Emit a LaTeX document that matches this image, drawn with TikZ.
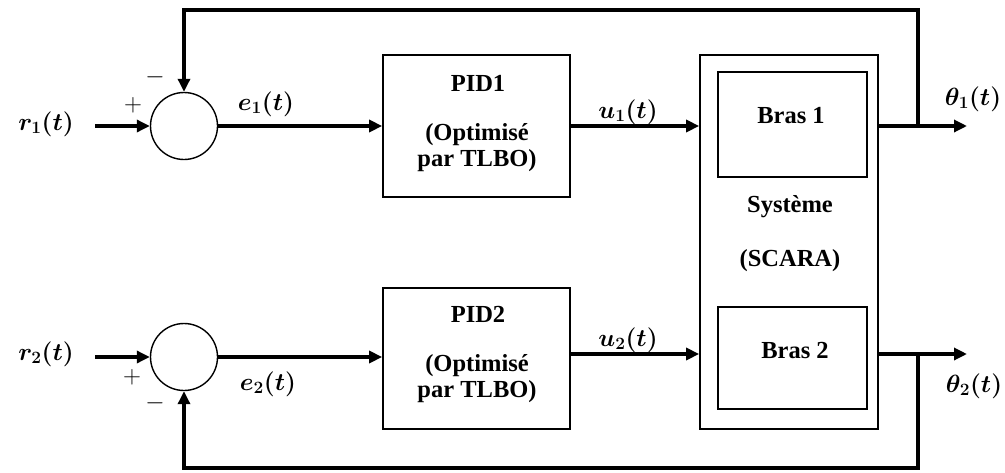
\documentclass[tikz,border=0pt]{standalone}
\usepackage{amsmath,bm}
\usepackage{fontspec}
\setmainfont{Liberation Serif}
\usetikzlibrary{arrows.meta}
\begin{document}
\begin{tikzpicture}[x=1pt,y=-1pt,
  sig/.style={line width=3.2pt,-{Triangle[length=13pt,width=12pt]}},
  blk/.style={draw,line width=1.7pt,inner sep=0pt},
  sumc/.style={draw,circle,line width=1.4pt,minimum size=67pt,inner sep=0pt},
  txt/.style={font=\fontsize{24.5}{26}\selectfont\bfseries,align=center,inner sep=0pt},
  lbl/.style={font=\fontsize{27}{30}\selectfont,inner sep=0pt},
  pm/.style={font=\fontsize{26}{30}\selectfont,inner sep=0pt}]
\useasboundingbox (0,0) rectangle (1005,472);
% blocks
\node[sumc] (s1) at (184,126) {};
\node[sumc] (s2) at (184,357) {};
\node[blk,minimum width=187pt,minimum height=142pt] (pid1) at (476.5,126) {};
\node[blk,minimum width=187pt,minimum height=141pt] (pid2) at (476.5,358.5) {};
\node[blk,minimum width=178pt,minimum height=374pt] (sys) at (789,242) {};
\node[blk,minimum width=149pt,minimum height=105pt] (b1) at (792.5,124.5) {};
\node[blk,minimum width=149pt,minimum height=102pt] (b2) at (792.5,358) {};
% block texts
\node[txt] (t1) at (478,83) {PID1};
\node[txt] (t2) at (477,148) {(Optimisé\\par TLBO)};
\node[txt] (t3) at (478,314) {PID2};
\node[txt] (t4) at (477,379) {(Optimisé\\par TLBO)};
\node[txt] (t5) at (791,116) {Bras 1};
\node[txt] (t6) at (790,207) {Système};
\node[txt] (t7) at (790,261) {(SCARA)};
\node[txt] (t8) at (795,351) {Bras 2};
% coordinates
\coordinate (in1) at (95,126);
\coordinate (in2) at (95,357);
\coordinate (br1) at (918,126);
\coordinate (br2) at (918,354);
\coordinate (out1) at (967,126);
\coordinate (out2) at (967,354);
\coordinate (top) at (918,10);
\coordinate (bot) at (918,468);
% signals
\draw[sig] (in1) -- (s1.west);
\draw[sig] (in2) -- (s2.west);
\draw[sig] (s1.east) -- (pid1.west);
\draw[sig] (s2.east) -- (pid2.west |- s2.east);
\draw[sig] (pid1.east) -- (sys.west |- pid1.east);
\draw[sig] (pid2.east |- br2) -- (sys.west |- br2);
\draw[sig] (sys.east |- out1) -- (out1);
\draw[sig] (sys.east |- out2) -- (out2);
\draw[sig] (br1) -- (top) -| (s1.north);
\draw[sig] (br2) -- (bot) -| (s2.south);
% labels
\node[lbl] (lr1) at (46,124) {$\bm{r_1(t)}$};
\node[lbl] (lr2) at (46,354) {$\bm{r_2(t)}$};
\node[lbl] (le1) at (266,104) {$\bm{e_1(t)}$};
\node[lbl] (le2) at (268,384) {$\bm{e_2(t)}$};
\node[lbl] (lu1) at (628,112) {$\bm{u_1(t)}$};
\node[lbl] (lu2) at (628,340) {$\bm{u_2(t)}$};
\node[lbl] (lt1) at (973,99) {$\bm{\theta_1(t)}$};
\node[lbl] (lt2) at (974,386) {$\bm{\theta_2(t)}$};
\node[pm] (p1) at (133,105) {$+$};
\node[pm] (m1) at (155,77) {$-$};
\node[pm] (p2) at (132,377) {$+$};
\node[pm] (m2) at (155,403) {$-$};
\end{tikzpicture}
\end{document}
